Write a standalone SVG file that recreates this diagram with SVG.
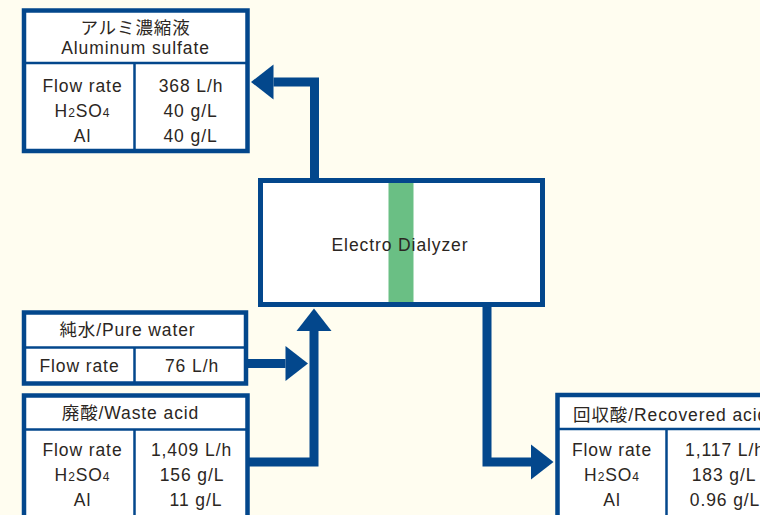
<svg xmlns="http://www.w3.org/2000/svg" width="760" height="515" viewBox="0 0 760 515">
<defs>
<marker id="ah" markerUnits="userSpaceOnUse" markerWidth="24" markerHeight="36" refX="0" refY="17.5" orient="auto" overflow="visible">
<path d="M0,0 L22.5,17.5 L0,35 Z" fill="#03478c"/>
</marker>
<style>
.bg{fill:#fffdf0}
.box{fill:#ffffff;stroke:#03478c;stroke-width:4.5}
.sep{stroke:#03478c;stroke-width:2.5;fill:none}
.pipe{fill:none;stroke:#03478c;stroke-width:9;stroke-linejoin:miter;stroke-linecap:butt}
text{font-family:"Liberation Sans","Noto Sans CJK JP",sans-serif;font-size:17.5px;fill:#2b2622;text-anchor:middle;letter-spacing:0.9px}
.sub{font-size:12px}
</style>
</defs>
<rect class="bg" x="0" y="0" width="760" height="515"/>

<g id="connectors">
<polyline class="pipe" points="314.5,181 314.5,82 273.5,82" marker-end="url(#ah)"/>
<polyline class="pipe" points="246,363.5 285.5,363.5" marker-end="url(#ah)"/>
<polyline class="pipe" points="248,462 314,462 314,331" marker-end="url(#ah)"/>
<polyline class="pipe" points="487,304 487,462 531,462" marker-end="url(#ah)"/>
</g>

<g id="aluminum-sulfate">
<rect class="box" x="24" y="10.5" width="223.5" height="140.5"/>
<line class="sep" x1="24" y1="63" x2="247.5" y2="63"/>
<line class="sep" x1="134.5" y1="63" x2="134.5" y2="151"/>
<text x="135.5" y="34">アルミ濃縮液</text>
<text x="135.5" y="54">Aluminum sulfate</text>
<text x="82.5" y="92">Flow rate</text>
<text x="82.5" y="117">H<tspan class="sub">2</tspan>SO<tspan class="sub">4</tspan></text>
<text x="82.5" y="142">Al</text>
<text x="191" y="92">368 L/h</text>
<text x="190.5" y="117">40 g/L</text>
<text x="190.5" y="142">40 g/L</text>
</g>

<g id="dialyzer">
<rect x="260.5" y="180.5" width="282" height="124" fill="#ffffff"/>
<rect x="388.5" y="182" width="25" height="121" fill="#6abf84"/>
<rect x="260.5" y="180.5" width="282" height="124" fill="none" stroke="#03478c" stroke-width="5"/>
<text x="400" y="251">Electro Dialyzer</text>
</g>

<g id="pure-water">
<rect class="box" x="24" y="312.5" width="222" height="71"/>
<line class="sep" x1="24" y1="347.5" x2="246" y2="347.5"/>
<line class="sep" x1="134.5" y1="347.5" x2="134.5" y2="383.5"/>
<text x="127.5" y="336">純水/Pure water</text>
<text x="79.5" y="372">Flow rate</text>
<text x="192" y="372">76 L/h</text>
</g>

<g id="waste-acid">
<rect class="box" x="24" y="395.5" width="223.5" height="130"/>
<line class="sep" x1="24" y1="429.5" x2="247.5" y2="429.5"/>
<line class="sep" x1="134.5" y1="429.5" x2="134.5" y2="525"/>
<text x="130.5" y="419">廃酸/Waste acid</text>
<text x="82.5" y="456">Flow rate</text>
<text x="82.5" y="481">H<tspan class="sub">2</tspan>SO<tspan class="sub">4</tspan></text>
<text x="82.5" y="506">Al</text>
<text x="191.5" y="456">1,409 L/h</text>
<text x="192" y="481">156 g/L</text>
<text x="196" y="506">11 g/L</text>
</g>

<g id="recovered-acid">
<rect class="box" x="557.5" y="395" width="220" height="130"/>
<line class="sep" x1="557.5" y1="429" x2="777.5" y2="429"/>
<line class="sep" x1="666.5" y1="429" x2="666.5" y2="525"/>
<text x="573" y="421" style="text-anchor:start">回収酸/Recovered acid</text>
<text x="612" y="456">Flow rate</text>
<text x="612" y="481">H<tspan class="sub">2</tspan>SO<tspan class="sub">4</tspan></text>
<text x="612" y="506">Al</text>
<text x="725" y="456">1,117 L/h</text>
<text x="724" y="481">183 g/L</text>
<text x="725" y="506">0.96 g/L</text>
</g>
</svg>
